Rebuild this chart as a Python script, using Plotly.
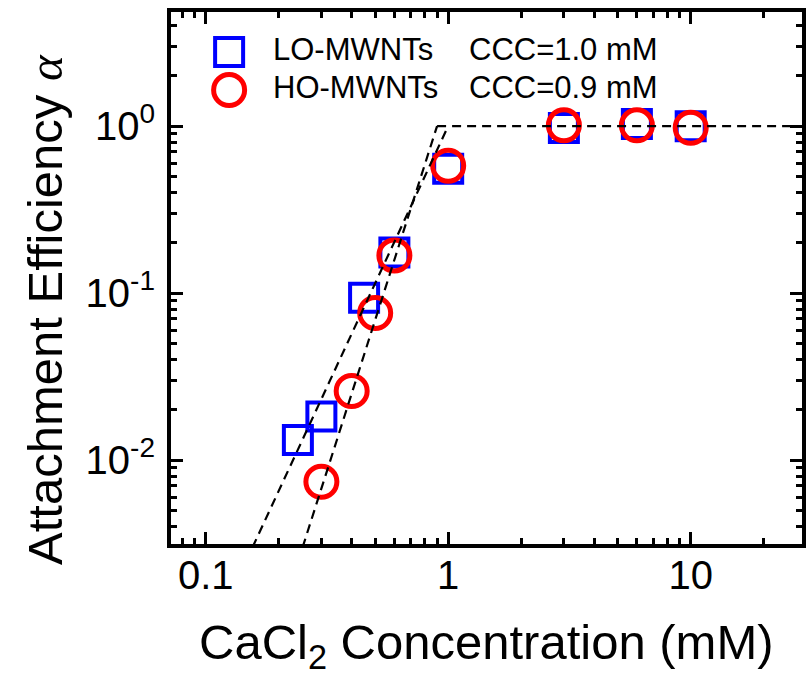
import plotly.graph_objects as go

# ---- data ----
lo_x = [0.24, 0.30, 0.45, 0.60, 1.0, 3.0, 6.0, 10.0]
lo_y = [0.0132, 0.0182, 0.0937, 0.175, 0.555, 0.973, 1.028, 0.996]
ho_x = [0.30, 0.40, 0.50, 0.60, 1.0, 3.0, 6.0, 10.0]
ho_y = [0.00741, 0.0259, 0.0759, 0.168, 0.578, 1.01, 1.01, 0.977]

lo_fit_x = [0.156, 1.0]
lo_fit_y = [0.003, 1.0]
ho_fit_x = [0.251, 0.9]
ho_fit_y = [0.003, 1.0]
plateau_x = [0.9, 30.0]
plateau_y = [1.0, 1.0]

legend_names = ["LO-MWNTs", "HO-MWNTs"]
legend_ccc = ["CCC=1.0 mM", "CCC=0.9 mM"]

x_ticks = [0.1, 1, 10]
x_ticktext = ["0.1", "1", "10"]
y_ticks = [0.01, 0.1, 1]
y_ticktext = ["10<sup>-2</sup>", "10<sup>-1</sup>", "10<sup>0</sup>"]

x_minor = [k * 10.0 ** e for e in (-2, -1, 0, 1) for k in range(2, 10)]
y_minor = [k * 10.0 ** e for e in (-3, -2, -1, 0) for k in range(2, 10)]

FONT = "Liberation Sans, Arial, sans-serif"

fig = go.Figure()

fig.add_trace(go.Scatter(x=lo_x, y=lo_y, mode="markers", name=legend_names[0],
                         marker=dict(symbol="square-open", size=28, color="#0000FF",
                                     line=dict(width=4, color="#0000FF"))))
fig.add_trace(go.Scatter(x=ho_x, y=ho_y, mode="markers", name=legend_names[1],
                         marker=dict(symbol="circle-open", size=31, color="#FF0000",
                                     line=dict(width=5, color="#FF0000"))))

dash = "9px,6px"
for fx, fy in [(lo_fit_x, lo_fit_y), (ho_fit_x, ho_fit_y), (plateau_x, plateau_y)]:
    fig.add_trace(go.Scatter(x=fx, y=fy, mode="lines", showlegend=False,
                             line=dict(color="black", width=2.2, dash=dash)))

axis_common = dict(
    type="log", showline=True, linewidth=4, linecolor="black", mirror="ticks",
    ticks="inside", ticklen=12, tickwidth=3, tickcolor="black",
    showgrid=False, zeroline=False,
    tickfont=dict(family=FONT, size=40, color="black"),
)

fig.update_xaxes(**axis_common, range=[-1.143, 1.459], tickmode="array",
                 tickvals=x_ticks, ticktext=x_ticktext, ticklabelstandoff=-7,
                 minor=dict(ticks="inside", ticklen=6, tickwidth=3, tickcolor="black",
                            tickmode="array", tickvals=x_minor, showgrid=False))
fig.update_yaxes(**axis_common, range=[-2.503, 0.683], tickmode="array",
                 tickvals=y_ticks, ticktext=y_ticktext, ticklabelstandoff=4,
                 minor=dict(ticks="inside", ticklen=6, tickwidth=3, tickcolor="black",
                            tickmode="array", tickvals=y_minor, showgrid=False))

# legend keys
key_x = 0.0921
row_y = [0.9248, 0.8534]
fig.add_shape(type="rect", xref="paper", yref="paper", xsizemode="pixel", ysizemode="pixel",
              xanchor=key_x, yanchor=row_y[0], x0=-14, x1=14, y0=-14, y1=14,
              line=dict(color="#0000FF", width=4), layer="above")
fig.add_shape(type="circle", xref="paper", yref="paper", xsizemode="pixel", ysizemode="pixel",
              xanchor=key_x, yanchor=row_y[1], x0=-15.5, x1=15.5, y0=-15.5, y1=15.5,
              line=dict(color="#FF0000", width=5), layer="above")
for i in range(2):
    fig.add_annotation(x=0.159, y=row_y[i] + 0.004, xref="paper", yref="paper",
                       text=legend_names[i], showarrow=False, xanchor="left", yanchor="middle",
                       font=dict(family=FONT, size=31, color="black"))
    fig.add_annotation(x=0.4693, y=row_y[i] + 0.004, xref="paper", yref="paper",
                       text=legend_ccc[i], showarrow=False, xanchor="left", yanchor="middle",
                       font=dict(family=FONT, size=31, color="black"))

# axis titles
fig.add_annotation(x=0.5, y=-0.19, xref="paper", yref="paper",
                   text="CaCl<sub>2</sub> Concentration (mM)", showarrow=False,
                   xanchor="center", yanchor="middle",
                   font=dict(family=FONT, size=49, color="black"))
fig.add_annotation(x=-0.198, y=0.44, xref="paper", yref="paper", textangle=-90,
                   text='Attachment Efficiency <span style="font-family:Liberation Serif"><i>α</i></span>',
                   showarrow=False, xanchor="center", yanchor="middle",
                   font=dict(family=FONT, size=49, color="black"))

fig.update_layout(width=806, height=686, margin=dict(l=171, r=0, t=12, b=142),
                  plot_bgcolor="white", paper_bgcolor="white", showlegend=False)

fig.write_html("out.html")
